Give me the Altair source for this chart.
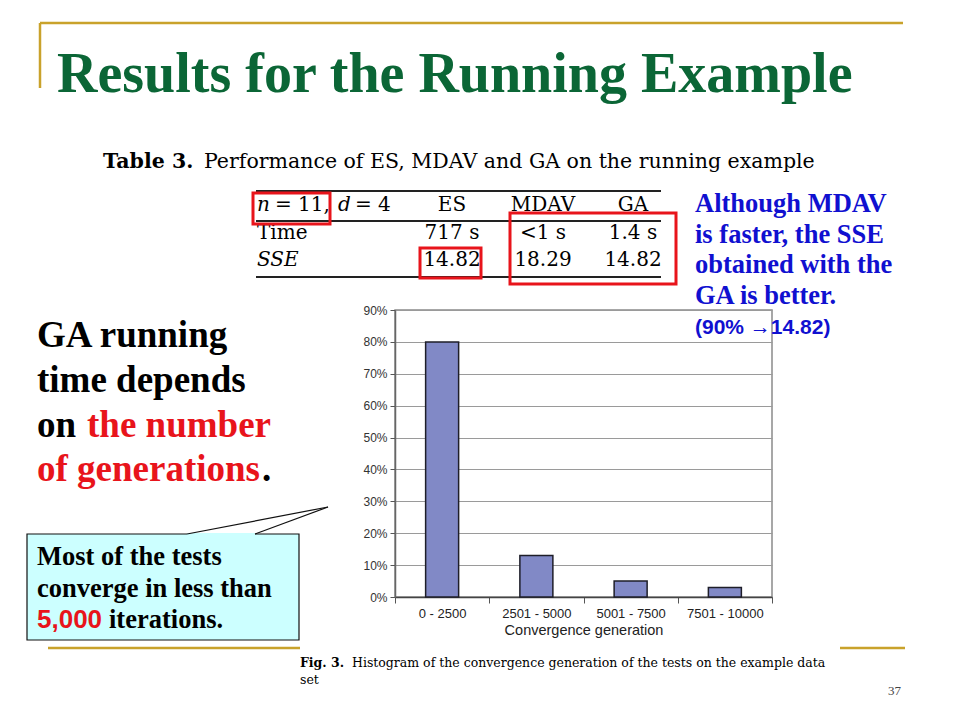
import altair as alt
import pandas as pd

# ---------------- data ----------------
CATEGORIES = ["0 - 2500", "2501 - 5000", "5001 - 7500", "7501 - 10000"]
SHARES = [0.80, 0.13, 0.05, 0.03]
Y_TICKS = [0.0, 0.1, 0.2, 0.3, 0.4, 0.5, 0.6, 0.7, 0.8, 0.9]
X_TITLE = "Convergence generation"

TITLE = "Results for the Running Example"
TABLE_CAPTION_BOLD = "Table 3."
TABLE_CAPTION = "Performance of ES, MDAV and GA on the running example"
TABLE_COLS = ["ES", "MDAV", "GA"]
TIME_ROW = ["717 s", "<1 s", "1.4 s"]
SSE_ROW = ["14.82", "18.29", "14.82"]
BLUE_NOTE = ["Although MDAV", "is faster, the SSE", "obtained with the", "GA is better."]
BLUE_NOTE2 = "(90% \u219214.82)"
FIG_CAPTION_BOLD = "Fig. 3."
FIG_CAPTION = ["Histogram of the convergence generation of the tests on the example data"]
FIG_CAPTION2 = "set"
CALLOUT = ["Most of the tests", "converge in less than"]
PAGE_NO = "37"

# ---------------- layout helpers ----------------
OX, OY = 395, 310          # page position of plot origin
W, H = 377, 287
ONE = alt.Data(values=[{"k": 0}])
GOLD = "#C9A22B"


def px(X):
    return X - OX


def py(Y):
    return Y - OY


def txt(s, X, Y, size, color="black", font="Liberation Serif", weight="bold",
        style="normal", align="left", lh=None):
    kw = dict(text=s, font=font, fontSize=size, fontWeight=weight, fontStyle=style,
              color=color, align=align, baseline="alphabetic")
    if lh:
        kw["lineHeight"] = lh
    return alt.Chart(ONE).mark_text(**kw).encode(x=alt.value(px(X)), y=alt.value(py(Y)))


def seg(X1, Y1, X2, Y2, color, width):
    return alt.Chart(ONE).mark_rule(color=color, strokeWidth=width).encode(
        x=alt.value(px(X1)), y=alt.value(py(Y1)),
        x2=alt.value(px(X2)), y2=alt.value(py(Y2)))


def box(X1, Y1, X2, Y2, stroke, width, fill=None):
    kw = dict(stroke=stroke, strokeWidth=width)
    if fill:
        kw["fill"] = fill
    else:
        kw["fillOpacity"] = 0
    return alt.Chart(ONE).mark_rect(**kw).encode(
        x=alt.value(px(X1)), y=alt.value(py(Y1)),
        x2=alt.value(px(X2)), y2=alt.value(py(Y2)))


# ---------------- bar chart ----------------
df = pd.DataFrame({"gen": CATEGORIES, "share": SHARES})

bars = alt.Chart(df).mark_bar(size=33, fill="#8189C6", stroke="#1e1e28", strokeWidth=1.5).encode(
    x=alt.X("gen:N", sort=CATEGORIES,
            scale=alt.Scale(paddingInner=0, paddingOuter=0),
            axis=alt.Axis(tickBand="extent", labelAngle=0, labelFont="Liberation Sans",
                          labelFontSize=13, labelColor="#222", tickSize=6, tickColor="#555",
                          domainColor="#444", domainWidth=1.5, labelPadding=4,
                          title=X_TITLE, titleFont="Liberation Sans", titleFontSize=14.5,
                          titleFontWeight="normal", titleColor="#222", titlePadding=3,
                          grid=False)),
    y=alt.Y("share:Q", scale=alt.Scale(domain=[0, 0.9], nice=False),
            axis=alt.Axis(values=Y_TICKS, format=".0%", labelFont="Liberation Sans",
                          labelFontSize=12, labelColor="#333", tickSize=5, tickColor="#555",
                          domainColor="#666", domainWidth=1.5, gridColor="#9a9a9a",
                          gridWidth=1.2, labelPadding=3, title=None)),
)

layers = [bars]

# gold slide frame lines
layers += [
    seg(40, 23, 903, 23, GOLD, 2.5),
    seg(40, 23, 40, 88, GOLD, 2.5),
    seg(48, 648, 300, 648, GOLD, 2.5),
    seg(840, 648, 905, 648, GOLD, 2.5),
]

# title
layers.append(txt(TITLE, 57, 92, 56, color="#0B6636"))

# table caption
layers.append(txt(TABLE_CAPTION_BOLD, 103, 168, 20.5, font="DejaVu Serif"))
layers.append(txt(TABLE_CAPTION, 204, 168, 20.5, font="DejaVu Serif", weight="normal"))

# table rules
layers += [
    seg(256, 191, 661, 191, "#222", 2),
    seg(256, 221, 661, 221, "#222", 2),
    seg(256, 277, 661, 277, "#222", 2),
]
# table header left
layers += [
    txt("n", 257, 211, 20, font="DejaVu Serif", weight="normal", style="italic"),
    txt("= 11,", 275, 211, 20, font="DejaVu Serif", weight="normal"),
    txt("d", 338, 211, 20, font="DejaVu Serif", weight="normal", style="italic"),
    txt("= 4", 355, 211, 20, font="DejaVu Serif", weight="normal"),
    txt("Time", 257, 239, 20, font="DejaVu Serif", weight="normal"),
    txt("SSE", 257, 266, 20, font="DejaVu Serif", weight="normal", style="italic"),
]
for cx, col, t, s in zip([452, 543, 633], TABLE_COLS, TIME_ROW, SSE_ROW):
    layers.append(txt([col, t, s], cx, 211, 20, font="DejaVu Serif", weight="normal",
                      align="center", lh=27.5))

# red highlight boxes
layers += [
    box(253, 193, 330, 224, "#E8141B", 3),
    box(420, 248, 481, 278, "#E8141B", 3),
    box(510, 213, 676, 284, "#E8141B", 3),
]

# blue note
layers.append(txt(BLUE_NOTE, 695, 212, 26.5, color="#1010D0", lh=30.5))
layers.append(txt(BLUE_NOTE2, 695, 334, 21, color="#1010D0", font="Liberation Sans"))

# left statement
layers += [
    txt("GA running", 37, 347, 37),
    txt("time  depends", 37, 392, 37),
    txt("on", 37, 437, 37),
    txt("the number", 87, 437, 37, color="#E8141B"),
    txt("of generations", 37, 481, 37, color="#E8141B"),
    txt(".", 262, 481, 37),
]

# callout
layers += [
    box(27, 534, 299, 640, "#111", 1.2, fill="#CCFFFF"),
    seg(187, 534, 255, 534, "#CCFFFF", 2),
    seg(187, 534, 328, 507, "#111", 1.2),
    seg(255, 534, 328, 507, "#111", 1.2),
    txt(CALLOUT, 37, 565, 26.5, lh=31.5),
    txt("5,000", 37, 628, 26, color="#E8141B", font="Liberation Sans"),
    txt("iterations.", 109, 628, 26.5),
]

# figure caption
layers += [
    txt(FIG_CAPTION_BOLD, 300, 667, 12.5, font="DejaVu Serif"),
    txt(FIG_CAPTION, 352, 667, 12.5, font="DejaVu Serif", weight="normal"),
    txt(FIG_CAPTION2, 300, 684, 12.5, font="DejaVu Serif", weight="normal"),
]

# page number
layers.append(txt(PAGE_NO, 888, 695, 13, color="#444", weight="normal"))

chart = alt.layer(*layers).properties(
    width=W, height=H,
    autosize=alt.AutoSizeParams(type="none"),
    padding={"left": OX - 8, "top": OY - 8, "right": 944 - (OX - 8) - W,
             "bottom": 704 - (OY - 8) - H},
    background="white",
).configure_view(stroke="#8a8a8a", strokeWidth=1.5)

chart.save("out.html", embed_options={"renderer": "svg", "actions": False})
